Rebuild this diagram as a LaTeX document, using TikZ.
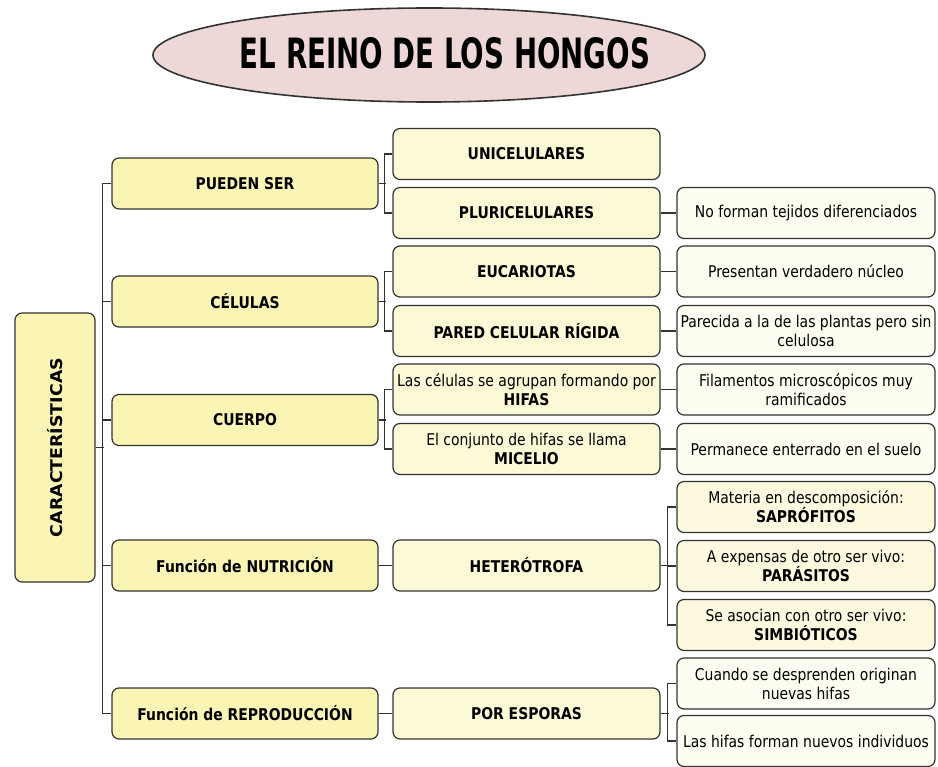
\documentclass[tikz,border=0pt]{standalone}
\usepackage{fontspec}
\setmainfont{DejaVu Sans}[FakeStretch=0.86]
\usetikzlibrary{shapes.geometric}
\definecolor{lone}{HTML}{FAF5B4}
\definecolor{ltwo}{HTML}{FCF9D6}
\definecolor{lthree}{HTML}{FEFDF1}
\definecolor{lhet}{HTML}{FCF9DE}
\definecolor{pinkt}{HTML}{EDD7D7}
\definecolor{edge}{HTML}{333333}
\newcommand{\txtsize}{\fontsize{16.2}{19}\selectfont}
\tikzset{
  box/.style={draw=edge, line width=1.2pt, rounded corners=7pt, minimum height=51pt, align=center, inner sep=1pt, font=\txtsize},
  lone/.style={box, fill=lone, minimum width=266pt, font=\txtsize\bfseries},
  ltwo/.style={box, fill=ltwo, minimum width=267pt},
  ltwob/.style={ltwo, font=\txtsize\bfseries},
  lthree/.style={box, fill=lthree, minimum width=258pt},
  lhet/.style={box, fill=lhet, minimum width=258pt},
  conn/.style={draw=edge, line width=1.3pt},
}
\begin{document}
\begin{tikzpicture}[x=1pt,y=-1pt]
\useasboundingbox (0,0) rectangle (938,767);
% title
\node[ellipse, draw=edge, line width=1.6pt, fill=pinkt, minimum width=552pt, minimum height=94pt] (title) at (429,55) {};
\node (titletext) at (445,53) {\resizebox{410pt}{31pt}{\bfseries EL REINO DE LOS HONGOS}};
% root
\node[box, fill=lone, minimum width=80pt, minimum height=269pt] (car) at (55,447.5) {};
\node[rotate=90, font=\txtsize\bfseries] (cartext) at (55,447.5) {\resizebox{179pt}{15pt}{CARACTERÍSTICAS}};
% level 1
\node[lone] (pueden) at (245,183.5) {PUEDEN SER};
\node[lone] (celulas) at (245,301.5) {CÉLULAS};
\node[lone] (cuerpo) at (245,420) {CUERPO};
\node[lone] (nutri) at (245,565.5) {Función de NUTRICIÓN};
\node[lone] (repro) at (245,713.5) {Función de REPRODUCCIÓN};
% level 2
\node[ltwob] (uni) at (526.5,154) {UNICELULARES};
\node[ltwob] (pluri) at (526.5,213) {PLURICELULARES};
\node[ltwob] (euc) at (526.5,271.5) {EUCARIOTAS};
\node[ltwob] (pared) at (526.5,331) {PARED CELULAR RÍGIDA};
\node[ltwo] (hifas) at (526.5,389.5) {Las células se agrupan formando por\\\textbf{HIFAS}};
\node[ltwo] (micelio) at (526.5,449) {El conjunto de hifas se llama\\\textbf{MICELIO}};
\node[ltwob] (hetero) at (526.5,565.5) {HETERÓTROFA};
\node[ltwob] (esporas) at (526.5,713.5) {POR ESPORAS};
% level 3
\node[lthree] (noforman) at (806,213) {No forman tejidos diferenciados};
\node[lthree] (nucleo) at (806,271.5) {Presentan verdadero núcleo};
\node[lthree] (parecida) at (806,331) {Parecida a la de las plantas pero sin\\celulosa};
\node[lthree] (filamentos) at (806,389.5) {Filamentos microscópicos muy\\ramificados};
\node[lthree] (permanece) at (806,449) {Permanece enterrado en el suelo};
\node[lhet] (sapro) at (806,507) {Materia en descomposición:\\\textbf{SAPRÓFITOS}};
\node[lhet] (parasi) at (806,566) {A expensas de otro ser vivo:\\\textbf{PARÁSITOS}};
\node[lhet] (simbio) at (806,625) {Se asocian con otro ser vivo:\\\textbf{SIMBIÓTICOS}};
\node[lthree] (cuando) at (806,683.5) {Cuando se desprenden originan\\nuevas hifas};
\node[lthree] (nuevos) at (806,741) {Las hifas forman nuevos individuos};
% trunk
\draw[conn] (car.east) -- ++(8,0);
\draw[conn] (pueden.west) -- ++(-9,0) |- (repro.west);
\draw[conn] (celulas.west) -- ++(-9,0);
\draw[conn] (cuerpo.west) -- ++(-9,0);
\draw[conn] (nutri.west) -- ++(-9,0);
% level 1 -> 2
\draw[conn] (pueden.east) -- ++(7,0);
\draw[conn] (uni.west) -- ++(-8,0) |- (pluri.west);
\draw[conn] (celulas.east) -- ++(7,0);
\draw[conn] (euc.west) -- ++(-8,0) |- (pared.west);
\draw[conn] (cuerpo.east) -- ++(7,0);
\draw[conn] (hifas.west) -- ++(-8,0) |- (micelio.west);
\draw[conn] (nutri.east) -- (hetero.west);
\draw[conn] (repro.east) -- (esporas.west);
% level 2 -> 3
\draw[conn] (pluri.east) -- (noforman.west);
\draw[conn] (euc.east) -- (nucleo.west);
\draw[conn] (pared.east) -- (parecida.west);
\draw[conn] (hifas.east) -- (filamentos.west);
\draw[conn] (micelio.east) -- (permanece.west);
\draw[conn] (hetero.east) -- ++(8,0);
\draw[conn] (sapro.west) -- ++(-9,0) |- (simbio.west);
\draw[conn] (parasi.west) -- ++(-9,0);
\draw[conn] (esporas.east) -- ++(8,0);
\draw[conn] (cuando.west) -- ++(-9,0) |- (nuevos.west);
\end{tikzpicture}
\end{document}
